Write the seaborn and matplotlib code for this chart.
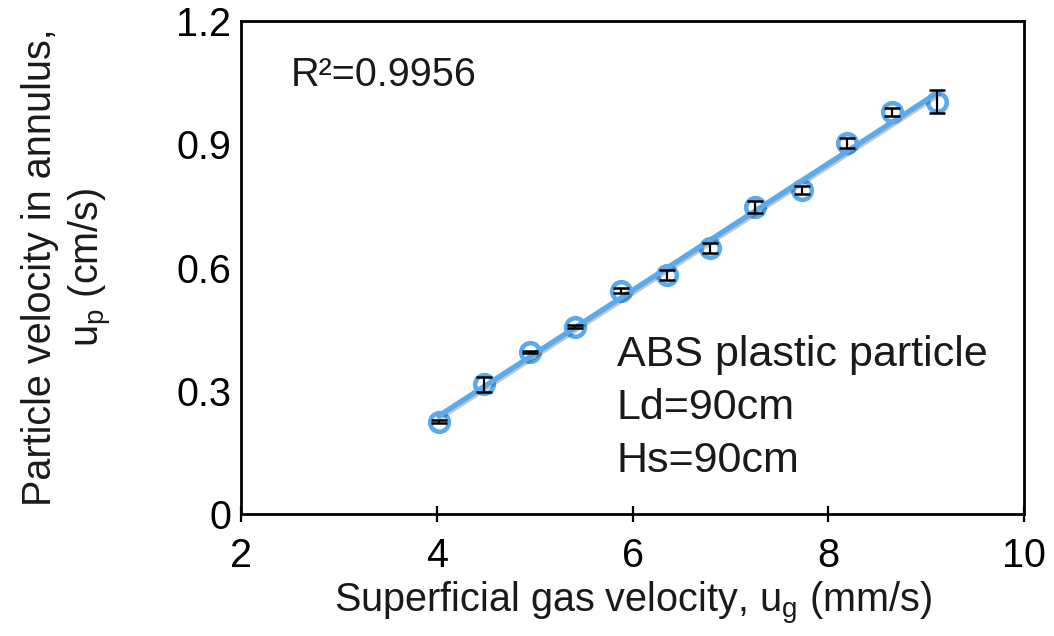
import numpy as np
import pandas as pd
import matplotlib
matplotlib.use("Agg")
import matplotlib.pyplot as plt
import matplotlib.patheffects as pe
import seaborn as sns

# Measured data: ABS plastic particle, Ld = 90 cm, Hs = 90 cm
gas_velocity = [4.02, 4.48, 4.95, 5.41, 5.88, 6.35, 6.79, 7.25, 7.73, 8.19, 8.65, 9.11]
particle_velocity = [0.225, 0.316, 0.394, 0.456, 0.543, 0.582, 0.647, 0.747, 0.789, 0.902, 0.978, 1.004]
velocity_err = [0.004, 0.018, 0.003, 0.004, 0.006, 0.012, 0.012, 0.015, 0.010, 0.012, 0.010, 0.028]

x_ticks = [2, 4, 6, 8, 10]
y_ticks = [0, 0.3, 0.6, 0.9, 1.2]
y_tick_labels = ["0", "0.3", "0.6", "0.9", "1.2"]

r2_label = "R\u00b2=0.9956"
info_lines = ["ABS plastic particle", "Ld=90cm", "Hs=90cm"]

df = pd.DataFrame({"ug": gas_velocity, "up": particle_velocity, "err": velocity_err})

sns.set_theme(style="white")
plt.rcParams["font.family"] = ["Liberation Sans", "DejaVu Sans"]
plt.rcParams["mathtext.fontset"] = "custom"
plt.rcParams["mathtext.rm"] = "Liberation Sans"
plt.rcParams["mathtext.it"] = "Liberation Sans"
plt.rcParams["text.color"] = "#1a1a1a"
plt.rcParams["axes.labelcolor"] = "#1a1a1a"

blue = "#5AAAEC"
fs_tick = 28.5
fs_label = 28.5
fs_note = 31

fig = plt.figure(figsize=(10.54, 6.36), dpi=100)
ax = fig.add_axes([0.2287, 0.1918, 0.7428, 0.7752])

sns.scatterplot(data=df, x="ug", y="up", ax=ax, s=180, marker="o",
                facecolor="white", edgecolor=blue, linewidth=3.3, zorder=2)
sns.regplot(data=df, x="ug", y="up", ax=ax, scatter=False, ci=None,
            line_kws=dict(color=blue, lw=3.8, zorder=3,
                          path_effects=[pe.SimpleLineShadow(offset=(1.2, -1.2), alpha=0.25),
                                        pe.Normal()]))
ax.errorbar(df["ug"], df["up"], yerr=df["err"], fmt="none", ecolor="black",
            elinewidth=1.6, capsize=5.5, capthick=1.8, zorder=4)

ax.set_xlim(2, 10)
ax.set_ylim(0, 1.2)
ax.set_xticks(x_ticks)
ax.set_xticklabels([str(t) for t in x_ticks])
ax.set_yticks(y_ticks)
ax.set_yticklabels(y_tick_labels)

for side in ["left", "right", "top", "bottom"]:
    ax.spines[side].set_visible(True)
    ax.spines[side].set_color("black")
    ax.spines[side].set_linewidth(2.0)

ax.tick_params(axis="x", direction="inout", length=11, width=1.6, pad=11,
               labelsize=fs_tick, colors="black", bottom=True)
ax.tick_params(axis="y", length=0, pad=7, labelsize=fs_tick, colors="black")

ax.set_xlabel("Superficial gas velocity, u$_\\mathrm{g}$ (mm/s)", fontsize=fs_label, labelpad=4)
ax.set_ylabel("Particle velocity in annulus,\nu$_\\mathrm{p}$ (cm/s)", fontsize=fs_label,
              linespacing=1.25)
ax.yaxis.set_label_coords(-0.162, 0.5)

ax.text(2.51, 1.069, r2_label, fontsize=fs_label, va="center", ha="left")
for yv, line in zip([0.387, 0.258, 0.129], info_lines):
    ax.text(5.84, yv, line, fontsize=fs_note, va="center", ha="left")

ax.grid(False)
fig.savefig("out.png", dpi=100)
